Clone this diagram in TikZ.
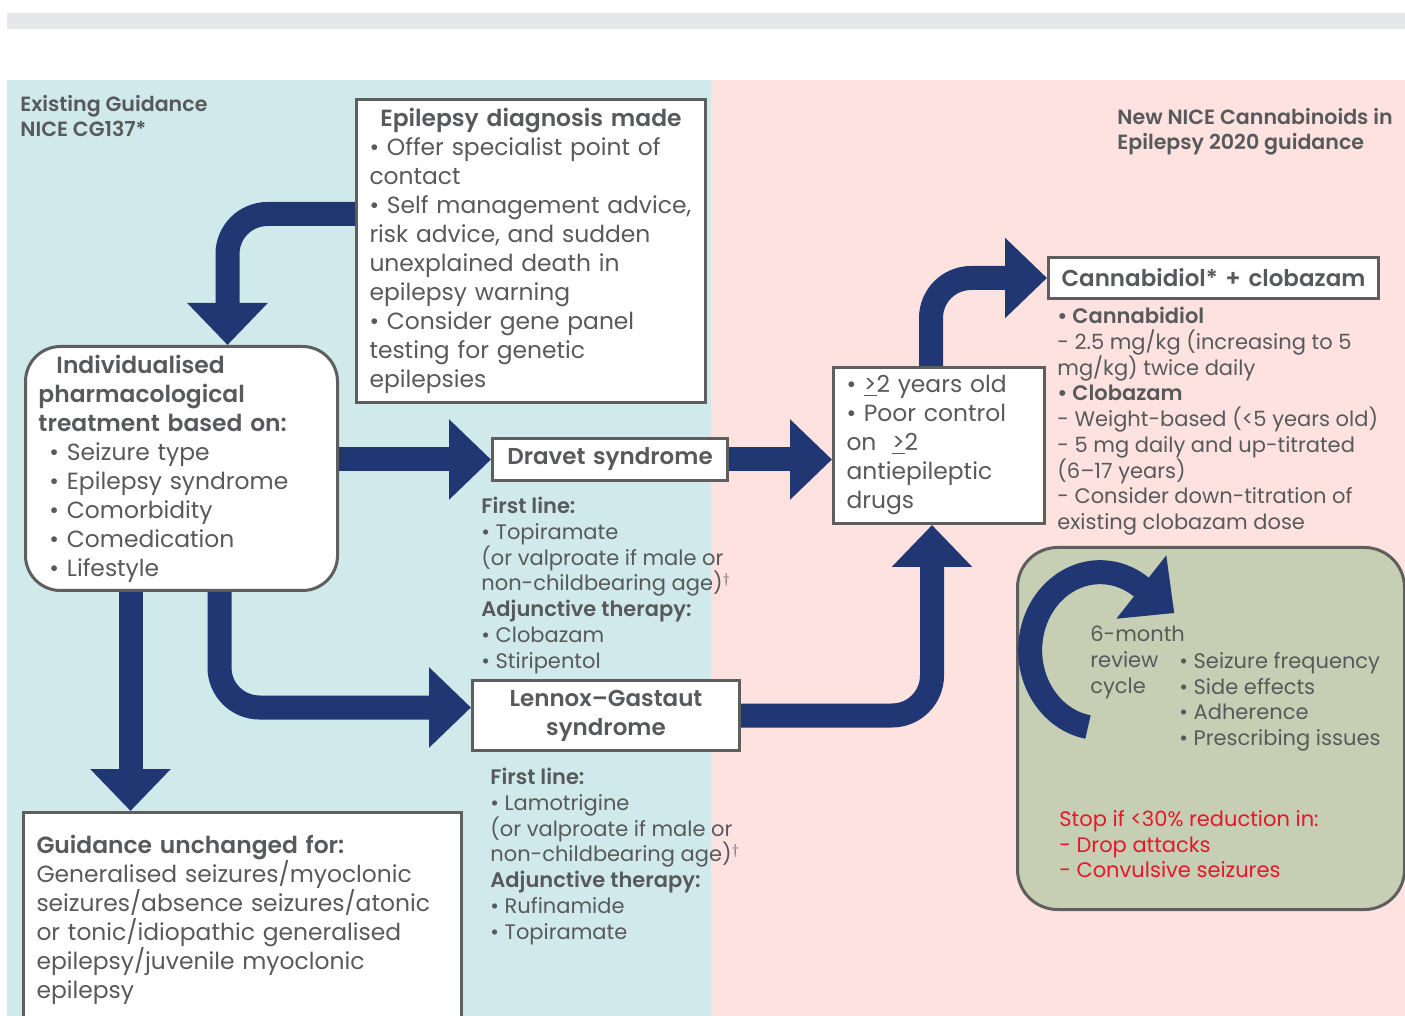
\documentclass[tikz,border=0pt]{standalone}
\usepackage{fontspec}
\setmainfont{Poppins}[BoldFont={Poppins SemiBold}]
\usetikzlibrary{arrows.meta,calc}
\definecolor{navy}{HTML}{213774}
\definecolor{ink}{HTML}{58595B}
\definecolor{frame}{HTML}{5E5E5E}
\definecolor{oldside}{HTML}{D0EAEB}
\definecolor{newside}{HTML}{FDE2E0}
\definecolor{sage}{HTML}{C6CFB3}
\definecolor{alert}{HTML}{E4172B}
\definecolor{topbar}{HTML}{E6E7E8}

\begin{document}
\begin{tikzpicture}[x=0.5pt, y=-0.5pt,
  box/.style={draw=frame, line width=1.5pt, fill=white, anchor=north west, inner xsep=6.5pt, inner ysep=3pt, text=ink, align=left, font=\fontsize{11.7}{14.5}\selectfont},
  title/.style={box, inner ysep=2pt, align=center, font=\fontsize{11.5}{14.5}\selectfont\bfseries},
  note/.style={anchor=north west, inner sep=0pt, text=ink, align=left, font=\fontsize{10.5}{12.85}\selectfont},
  flow/.style={draw=navy, line width=12pt, rounded corners=20pt, -{Triangle[length=21pt, width=39pt]}}
]
\clip (0,0) rectangle (1405,1016);
\fill[white] (0,0) rectangle (1405,1016);
\fill[topbar] (7,13) rectangle (1405,29);
\fill[oldside] (7,80) rectangle (711,1016);
\fill[newside] (711,80) rectangle (1405,1016);

\node[draw=frame, line width=1.5pt, fill=sage, rounded corners=20pt, anchor=north west, minimum width=193.5pt, minimum height=181pt, inner sep=0pt] (review) at (1016,546) {};

\node[note, font=\fontsize{10.3}{12.5}\selectfont\bfseries] (oldhdr) at (20,95) {Existing Guidance\\NICE CG137*};
\node[note, font=\fontsize{10.3}{12.5}\selectfont\bfseries] (newhdr) at (1117,108) {New NICE Cannabinoids in\\Epilepsy 2020 guidance};

\node[box, minimum width=174.5pt, minimum height=151.5pt, text width=161.5pt] (diag) at (355,98) {\makebox[\linewidth]{\bfseries Epilepsy diagnosis made}\\• Offer specialist point of\\contact\\• Self management advice,\\risk advice, and sudden\\unexplained death in\\epilepsy warning\\• Consider gene panel\\testing for genetic\\epilepsies};
\node[box, rounded corners=17.5pt, minimum width=156pt, minimum height=122pt, text width=143pt] (indiv) at (24,345) {\hspace*{9pt}\textbf{Individualised}\\\textbf{pharmacological}\\\textbf{treatment based on:}\\\hspace*{5.5pt}• Seizure type\\\hspace*{5.5pt}• Epilepsy syndrome\\\hspace*{5.5pt}• Comorbidity\\\hspace*{5.5pt}• Comedication\\\hspace*{5.5pt}• Lifestyle};
\node[title, minimum width=117.5pt, minimum height=21pt, text width=104.5pt] (dravet) at (491,437) {Dravet syndrome};
\node[title, minimum width=133.5pt, minimum height=35pt, text width=120.5pt] (lgs) at (471,679) {Lennox–Gastaut\\syndrome};
\node[box, minimum width=105.5pt, minimum height=78pt, text width=92.5pt] (crit) at (832,366) {• \underline{>}2 years old\\• Poor control\\on\ \ \underline{>}2\\antiepileptic\\drugs};
\node[title, minimum width=165pt, minimum height=20.5pt, text width=152pt] (cbd) at (1047,256) {Cannabidiol* + clobazam};
\node[box, minimum width=219pt, minimum height=107pt, text width=206pt] (unch) at (22,811) {\textbf{Guidance unchanged for:}\\Generalised seizures/myoclonic\\seizures/absence seizures/atonic\\or tonic/idiopathic generalised\\epilepsy/juvenile myoclonic\\epilepsy};

\node[note] (dravetnotes) at (481,497) {\textbf{First line:}\\• Topiramate\\(or valproate if male or\\non-childbearing age)$^{\dagger}$\\\textbf{Adjunctive therapy:}\\• Clobazam\\• Stiripentol};
\node[note] (lgsnotes) at (490,768) {\textbf{First line:}\\• Lamotrigine\\(or valproate if male or\\non-childbearing age)$^{\dagger}$\\\textbf{Adjunctive therapy:}\\• Rufinamide\\• Topiramate};
\node[note] (cbdnotes) at (1057,307) {\textbf{• Cannabidiol}\\- 2.5 mg/kg (increasing to 5\\mg/kg) twice daily\\\textbf{• Clobazam}\\- Weight-based (<5 years old)\\- 5 mg daily and up-titrated\\(6–17 years)\\- Consider down-titration of\\existing clobazam dose};
\node[note] (cyclelbl) at (1090,626) {6-month\\review\\cycle};
\node[note] (checklist) at (1179,652) {• Seizure frequency\\• Side effects\\• Adherence\\• Prescribing issues};
\node[note, text=alert] (stoptxt) at (1059,810) {Stop if <30\% reduction in:\\- Drop attacks\\- Convulsive seizures};

\draw[flow] ($(diag.west)+(0,-37)$) -| ($(indiv.north)+(46,0)$);
\draw[flow] (indiv.east |- dravet.west) -- (dravet.west);
\draw[flow] (dravet.east) -- (crit.west |- dravet.east);
\draw[flow] ($(crit.north)+(-8,0)$) |- (cbd.west);
\draw[flow] ($(indiv.south)+(-51,0)$) -- ($(indiv.south |- unch.north)+(-51,0)$);
\draw[flow] ($(indiv.south)+(38,0)$) |- ($(lgs.west)+(0,-8)$);
\draw[flow] (lgs.east) -| ($(crit.south)+(-7,0)$);
\draw[flow, sharp corners] (1088,727) arc[start angle=100, end angle=306, x radius=70, y radius=78] -- ++(33,26);
\end{tikzpicture}
\end{document}
